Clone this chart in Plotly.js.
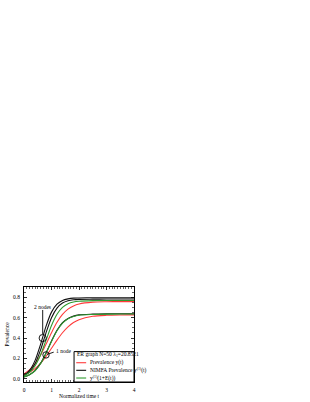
<!DOCTYPE html>
<html><head><meta charset="utf-8">
<script src="https://cdn.plot.ly/plotly-3.0.1.min.js"></script>
<style>html,body{margin:0;padding:0;background:#fff}#c{width:310px;height:402px}</style>
</head><body><div id="c"></div>
<script>
const t = [0,0.2,0.4,0.6,0.8,1.0,1.2,1.4,1.6,1.8,2.0,2.5,3.0,3.5,4.0];
// 2 nodes group
const nimfaTwo   = [0.035,0.083,0.179,0.336,0.515,0.654,0.732,0.769,0.784,0.791,0.793,0.795,0.795,0.795,0.795];
const nimfaTwoB  = [0.030,0.068,0.148,0.282,0.451,0.600,0.694,0.743,0.765,0.775,0.779,0.781,0.782,0.782,0.782];
const approxTwo  = [0.030,0.064,0.127,0.234,0.377,0.523,0.633,0.701,0.736,0.753,0.761,0.767,0.768,0.768,0.768];
const prevTwo    = [0.050,0.088,0.147,0.231,0.339,0.453,0.555,0.631,0.683,0.715,0.734,0.752,0.756,0.757,0.757];
// 1 node group
const nimfaOne   = [0.020,0.042,0.082,0.152,0.254,0.371,0.476,0.550,0.592,0.615,0.627,0.634,0.637,0.638,0.638];
const approxOne  = [0.020,0.041,0.080,0.149,0.250,0.367,0.472,0.546,0.589,0.612,0.624,0.631,0.634,0.635,0.635];
const prevOne    = [0.040,0.065,0.101,0.153,0.221,0.300,0.380,0.452,0.510,0.552,0.580,0.613,0.623,0.626,0.627];

const legendTitle = 'ER graph N=50 λ<sub>1</sub>=20.8521';
const legendLabels = ['Prevalence y(t)', 'NIMFA Prevalence y<sup>(1)</sup>(t)', 'y<sup>(1)</sup>(1+E(t))'];
const RED = '#ff3b3b', BLACK = '#111111', GREEN = '#2f9a2f';
const colors = [RED, BLACK, GREEN];

function tr(y, c){ return {x:t, y:y, type:'scatter', mode:'lines', line:{color:c, width:1.1, shape:'spline', smoothing:0.8}, showlegend:false, hoverinfo:'skip'}; }
const data = [
  tr(prevOne, RED), tr(prevTwo, RED),
  tr(nimfaTwo, BLACK), tr(nimfaTwoB, BLACK), tr(nimfaOne, BLACK),
  tr(approxTwo, GREEN), tr(approxOne, GREEN)
];

const F = 'Liberation Serif, Times New Roman, serif';
const shapes = [], annotations = [];
// legend box (manual)
const lx0 = 0.455, ly1 = 0.32;
shapes.push({type:'rect', xref:'paper', yref:'paper', x0:lx0, x1:1, y0:0, y1:ly1, line:{color:'#000', width:1}, fillcolor:'#fff', layer:'above'});
annotations.push({xref:'paper', yref:'paper', x:lx0+0.008, y:0.29, xanchor:'left', yanchor:'middle', text:legendTitle, showarrow:false, font:{family:F, size:5.5, color:'#000'}});
const rowsY = [0.203, 0.123, 0.042];
legendLabels.forEach((lab,i)=>{
  shapes.push({type:'line', xref:'paper', yref:'paper', x0:0.475, x1:0.565, y0:rowsY[i], y1:rowsY[i], line:{color:colors[i], width:1.1}, layer:'above'});
  annotations.push({xref:'paper', yref:'paper', x:0.578, y:rowsY[i], xanchor:'left', yanchor:'middle', text:lab, showarrow:false, font:{family:F, size:5.5, color:'#000'}});
});
// markers: circles and connectors
shapes.push({type:'circle', xref:'x', yref:'y', xsizemode:'pixel', ysizemode:'pixel', xanchor:0.68, yanchor:0.40, x0:-3.6, x1:3.6, y0:-3.6, y1:3.6, line:{color:'#000', width:0.9}});
shapes.push({type:'circle', xref:'x', yref:'y', xsizemode:'pixel', ysizemode:'pixel', xanchor:0.80, yanchor:0.235, x0:-3.2, x1:3.2, y0:-3.2, y1:3.2, line:{color:'#000', width:0.9}});
shapes.push({type:'line', xref:'x', yref:'y', x0:0.68, x1:0.68, y0:0.675, y1:0.44, line:{color:'#000', width:0.9}});
shapes.push({type:'line', xref:'x', yref:'y', x0:1.08, x1:0.84, y0:0.262, y1:0.240, line:{color:'#000', width:0.9}});
annotations.push({xref:'x', yref:'y', x:0.68, y:0.705, text:'2 nodes', showarrow:false, font:{family:F, size:5.5, color:'#000'}});
annotations.push({xref:'x', yref:'y', x:1.09, y:0.27, xanchor:'left', text:'1 node', showarrow:false, font:{family:F, size:5.5, color:'#000'}});

const ax = {showline:true, linecolor:'#000', linewidth:1, mirror:'allticks', ticks:'inside', ticklen:3, tickwidth:0.8, tickcolor:'#000', showgrid:false, zeroline:false, tickfont:{family:F, size:5.5, color:'#000'}};
const layout = {
  width:310, height:402, margin:{l:24, r:176, t:287, b:20},
  paper_bgcolor:'#fff', plot_bgcolor:'#fff', showlegend:false,
  font:{family:F, color:'#000'},
  xaxis: Object.assign({}, ax, {range:[0,4], dtick:1, tick0:0, ticklabelstandoff:2,
    minor:{dtick:0.1, ticks:'inside', ticklen:1.6, tickwidth:0.6, tickcolor:'#000'},
    title:{text:'Normalized time t', font:{family:F, size:5.5}, standoff:2}}),
  yaxis: Object.assign({}, ax, {range:[-0.03,0.9], dtick:0.2, tick0:0, tickformat:'.1f', ticklabelstandoff:2,
    minor:{dtick:0.05, ticks:'inside', ticklen:1.6, tickwidth:0.6, tickcolor:'#000'},
    title:{text:'Prevalence', font:{family:F, size:5.5}, standoff:3}}),
  shapes:shapes, annotations:annotations
};
Plotly.newPlot('c', data, layout, {staticPlot:true, displayModeBar:false});
</script></body></html>
